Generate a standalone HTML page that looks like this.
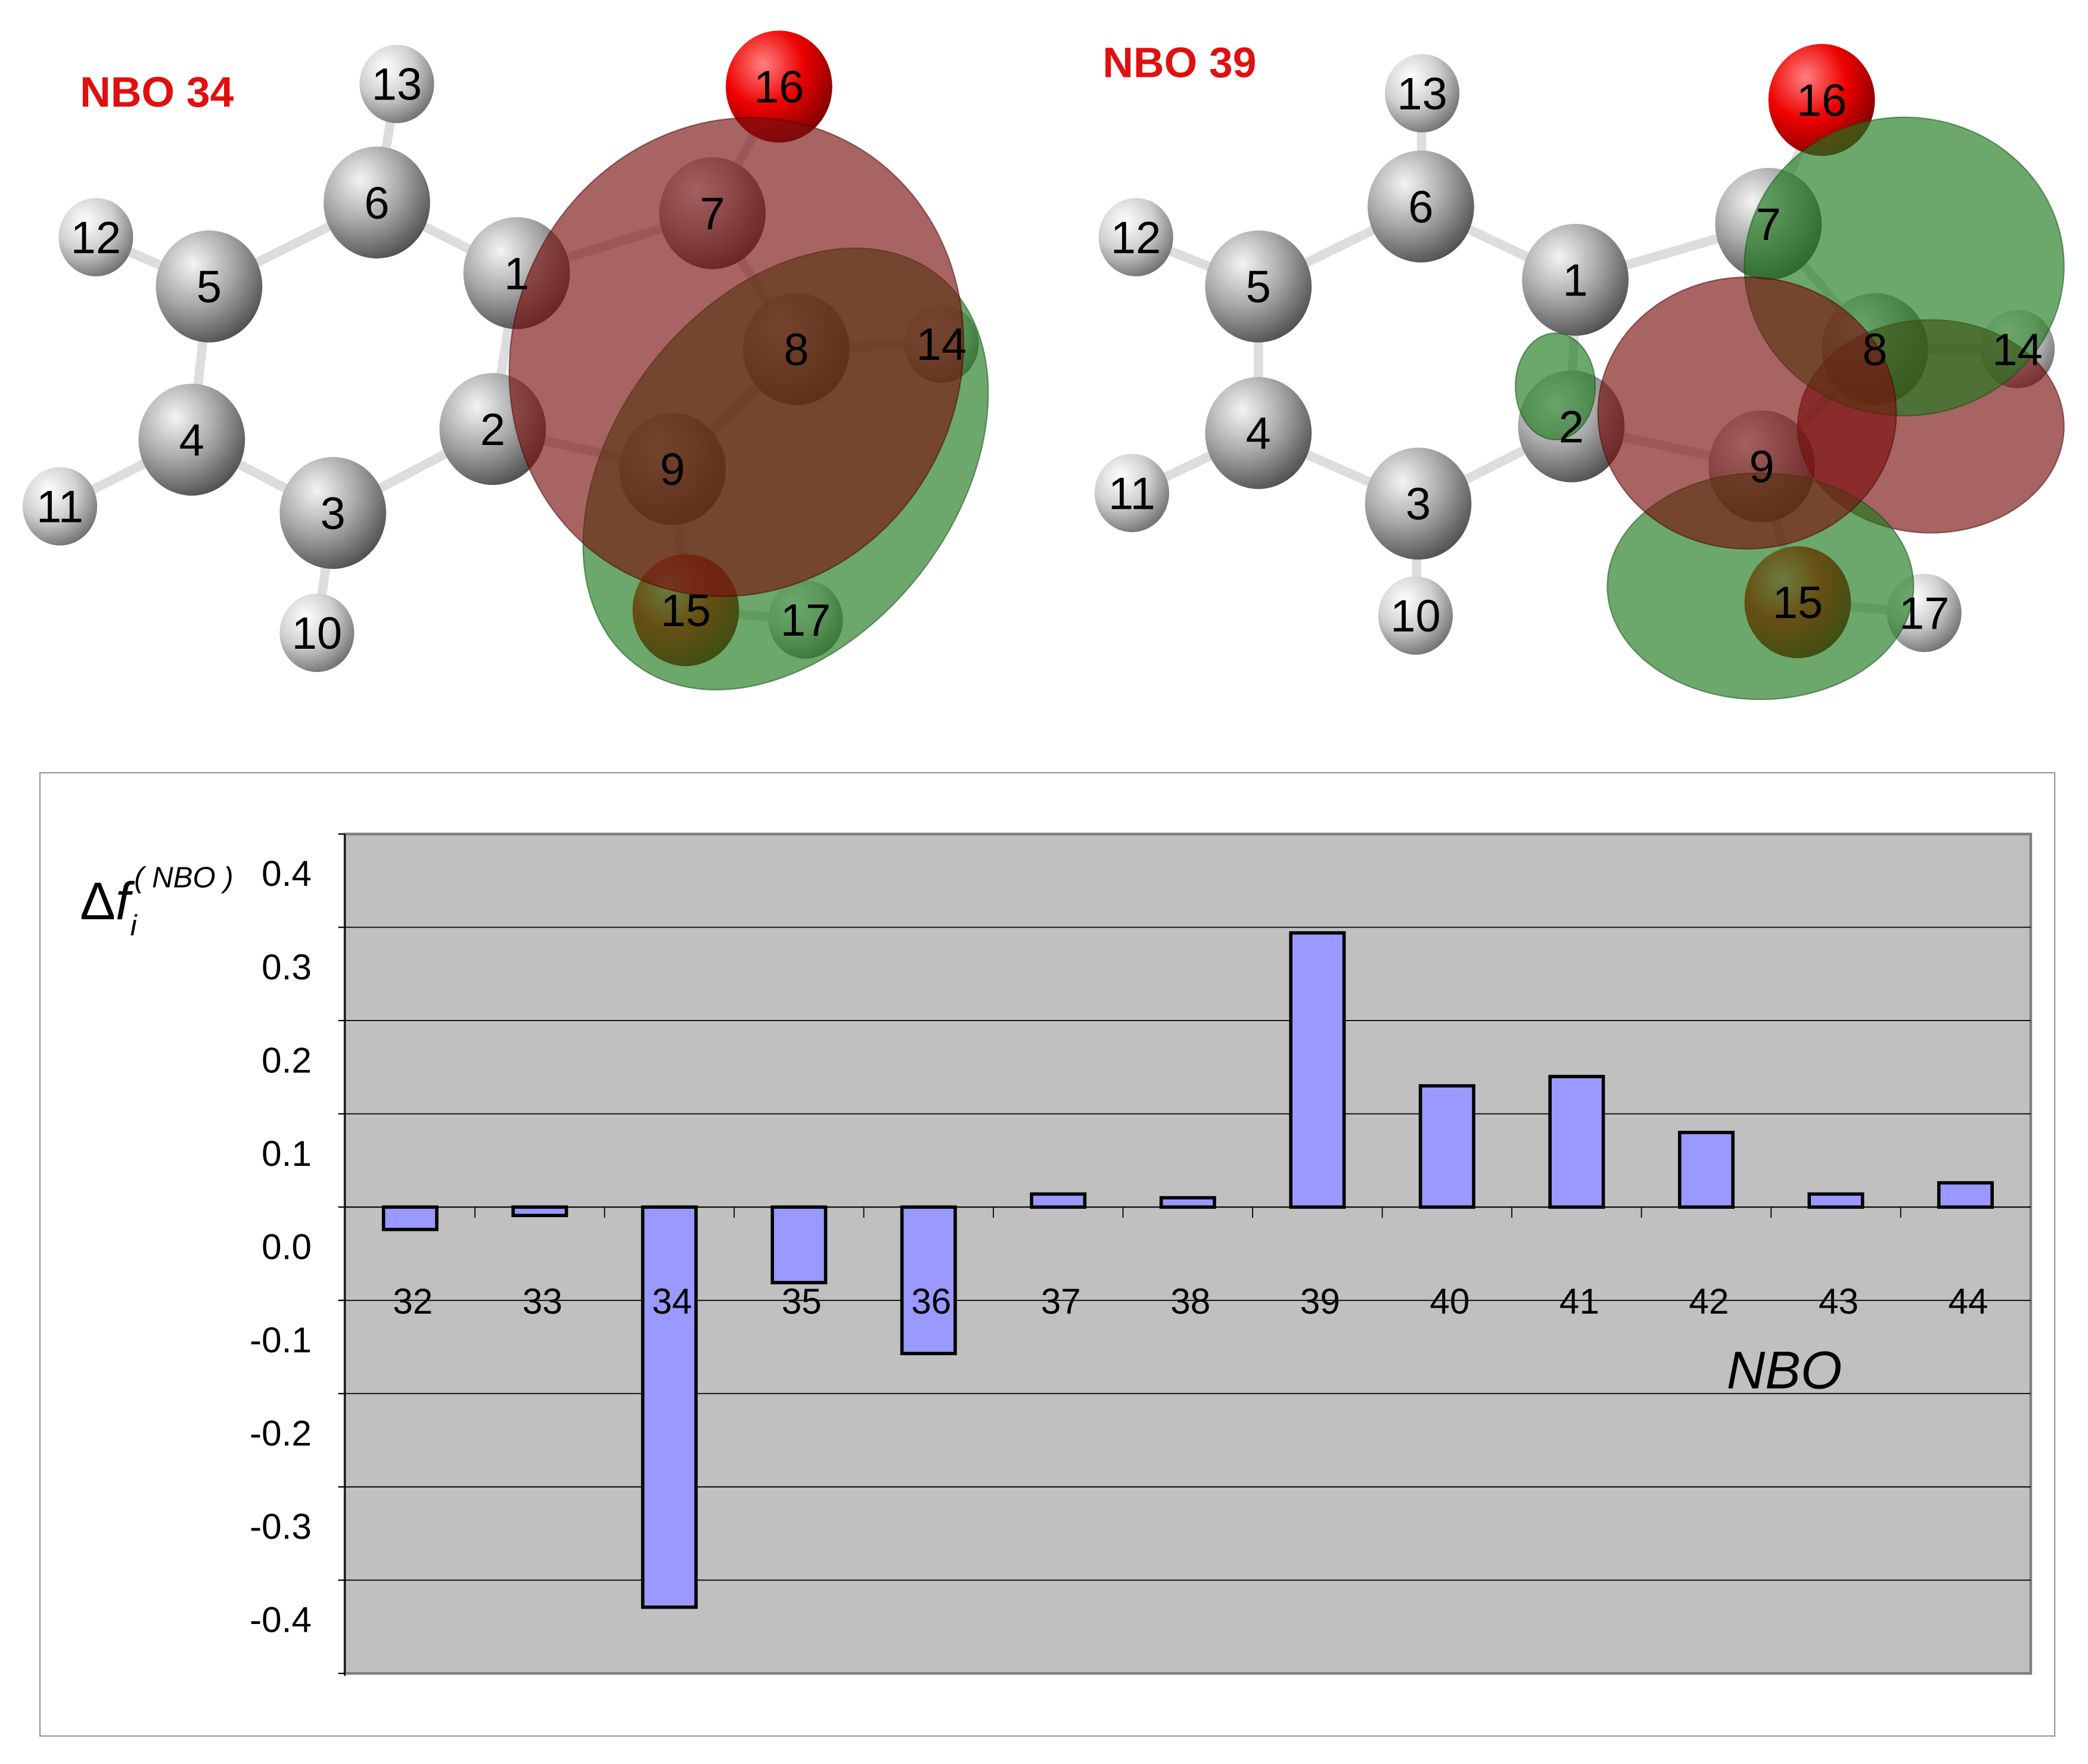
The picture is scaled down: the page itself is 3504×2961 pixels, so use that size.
<!DOCTYPE html>
<html><head><meta charset="utf-8"><style>
html,body{margin:0;padding:0;background:#fff}
svg{display:block}
text{font-family:"Liberation Sans",Arial,sans-serif}
</style></head><body>
<svg id="root" width="3504" height="2961" viewBox="0 0 1568 1324" preserveAspectRatio="none" xmlns="http://www.w3.org/2000/svg">
<defs>
<radialGradient id="gAtom" cx="0.35" cy="0.3" r="0.75"><stop offset="0" stop-color="#f4f4f4"/><stop offset="0.5" stop-color="#a8a8a8"/><stop offset="1" stop-color="#505050"/></radialGradient>
<radialGradient id="hAtom" cx="0.35" cy="0.3" r="0.75"><stop offset="0" stop-color="#ffffff"/><stop offset="0.5" stop-color="#d0d0d0"/><stop offset="1" stop-color="#707070"/></radialGradient>
<radialGradient id="oAtom" cx="0.35" cy="0.3" r="0.75"><stop offset="0" stop-color="#ff8080"/><stop offset="0.5" stop-color="#ee0000"/><stop offset="1" stop-color="#800000"/></radialGradient>
</defs>
<g id="mols"></g>
<rect x="30" y="580" width="1513" height="723" fill="#fff" stroke="#999" stroke-width="1"/>
<g id="chart"></g>
</svg>
<script>
const categories=["32","33","34","35","36","37","38","39","40","41","42","43","44"];
const values=[-0.024,-0.009,-0.429,-0.081,-0.157,0.014,0.010,0.294,0.130,0.140,0.080,0.014,0.026];
const yTicks=[0.4,0.3,0.2,0.1,0.0,-0.1,-0.2,-0.3,-0.4];
const yTickLabels=["0.4","0.3","0.2","0.1","0.0","-0.1","-0.2","-0.3","-0.4"];
const NS="http://www.w3.org/2000/svg";
function mk(tag,attrs,parent){const e=document.createElementNS(NS,tag);for(const k in attrs)e.setAttribute(k,attrs[k]);parent.appendChild(e);return e;}
const L=259,R=1525,T=626,B=1256,yMax=0.4,yMin=-0.5;
function y(v){return T+(yMax-v)/(yMax-yMin)*(B-T);}
const step=(1476-308)/12;
function x(i){return 308+i*step;}
const ch=document.getElementById('chart');
const pa=mk('rect',{x:L,y:T,width:R-L,height:B-T,fill:'#c0c0c0',stroke:'#808080','stroke-width':2},ch);


yTicks.forEach((t,i)=>{
  if(t<0.35&&t>-0.45){const g=mk('line',{x1:L,x2:R,y1:y(t),y2:y(t),stroke:'#000','stroke-width':0.8},ch);
  
  }
  mk('line',{x1:L-5,x2:L,y1:y(t),y2:y(t),stroke:'#000','stroke-width':1},ch);
  const tx=mk('text',{x:234,y:y(t)+39,'text-anchor':'end','font-size':27,fill:'#000'},ch);
  tx.textContent=yTickLabels[i];
  
  
});
mk('line',{x1:L,x2:L,y1:T,y2:B+2,stroke:'#000','stroke-width':1},ch);
mk('line',{x1:L-5,x2:L,y1:B,y2:B,stroke:'#000','stroke-width':1},ch);
categories.forEach((c,i)=>{
  const v=values[i],bw=40;
  const y0=y(0),y1=y(v);
  const b=mk('rect',{x:x(i)-bw/2,y:Math.min(y0,y1),width:bw,height:Math.max(1,Math.abs(y1-y0)),fill:'#9999ff',stroke:'#000','stroke-width':2.5},ch);
  
  
  if(i<12)mk('line',{x1:x(i)+step/2,x2:x(i)+step/2,y1:y(0),y2:y(0)+8,stroke:'#000','stroke-width':0.8},ch);
  const t=mk('text',{x:x(i)+2,y:986,'text-anchor':'middle','font-size':27,fill:'#000'},ch);
  t.textContent=c;
  
  
});
const ax=mk('text',{x:1340,y:1042,'text-anchor':'middle','font-size':40,'font-style':'italic','font-family':'Liberation Serif, serif',fill:'#000'},ch);
ax.textContent='NBO';


const yt=mk('text',{x:60,y:690,'font-size':40,'font-style':'italic','font-family':'Liberation Serif, serif',fill:'#000'},ch);
yt.innerHTML='<tspan font-style="normal">Δ</tspan>f<tspan font-size="22" dy="12">i</tspan><tspan font-size="22" dy="-36" dx="-2">( NBO )</tspan>';


const zl=mk('line',{x1:L,x2:R,y1:y(0),y2:y(0),stroke:'#000','stroke-width':0.8},ch);



// molecules
const mg=document.getElementById('mols');
function mol(atoms,bonds,lobes,title,tx,ty,name){
  const g=mk('g',{},mg);
  
  
  const A={};atoms.forEach(a=>A[a[0]]=a);
  bonds.forEach(b=>{const p=A[b[0]],q=A[b[1]];mk('line',{x1:p[1],y1:p[2],x2:q[1],y2:q[2],stroke:'#ddd','stroke-width':7},g);});
  atoms.forEach(a=>{
    const r=a[3]=='h'?28:40;
    const fill=a[3]=='h'?'url(#hAtom)':a[3]=='o'?'url(#oAtom)':'url(#gAtom)';
    mk('ellipse',{cx:a[1],cy:a[2],rx:r,ry:r*1.05,fill:fill},g);
  });
  lobes.forEach(l=>mk('ellipse',{cx:l[0],cy:l[1],rx:l[2],ry:l[3],transform:`rotate(${l[4]} ${l[0]} ${l[1]})`,fill:l[5],'fill-opacity':0.65,stroke:l[6],'stroke-opacity':0.5},g));
  atoms.forEach(a=>{const t=mk('text',{x:a[1],y:a[2]+12,'text-anchor':'middle','font-size':34,'font-family':'DejaVu Sans Mono, monospace',fill:'#000'},g);t.textContent=a[0];});
  const tt=mk('text',{x:tx,y:ty,'font-size':32,'font-weight':'bold',fill:'#e01010'},g);
  tt.textContent=title;
}
const bonds=[[1,6],[6,5],[5,4],[4,3],[3,2],[2,1],[6,13],[5,12],[4,11],[3,10],[1,7],[7,16],[7,8],[8,9],[9,2],[8,14],[9,15],[15,17]];
const atomsL=[[13,298,63,'h'],[6,283,152,'c'],[12,72,178,'h'],[5,157,215,'c'],[1,388,205,'c'],[7,535,160,'c'],[8,598,262,'c'],[14,707,258,'h'],[2,370,322,'c'],[4,144,330,'c'],[9,505,352,'c'],[3,250,385,'c'],[11,45,380,'h'],[10,238,475,'h'],[15,515,458,'o'],[17,605,465,'h'],[16,585,65,'o']];
mol(atomsL,bonds,[[590,352,128,185,38,'#1d7a1d','#0a4a0a'],[553,268,168,182,25,'#7a1010','#4a0000']],'NBO 34',60,80,'molecule-nbo-34');
const atomsR=[[13,1068,70,'h'],[6,1067,155,'c'],[12,853,178,'h'],[5,945,215,'c'],[1,1183,210,'c'],[7,1328,168,'c'],[8,1408,262,'c'],[14,1515,262,'h'],[2,1180,320,'c'],[4,945,325,'c'],[9,1323,350,'c'],[3,1065,378,'c'],[11,850,370,'h'],[10,1063,462,'h'],[15,1350,452,'o'],[17,1445,460,'h'],[16,1368,75,'o']];
mol(atomsR,bonds,[[1450,320,100,80,0,'#7a1010','#4a0000'],[1322,440,115,85,0,'#1d7a1d','#0a4a0a'],[1430,200,120,112,0,'#1d7a1d','#0a4a0a'],[1312,310,112,102,0,'#7a1010','#4a0000'],[1168,290,30,40,0,'#1d7a1d','#0a4a0a']],'NBO 39',828,58,'molecule-nbo-39');
</script>
</body></html>
